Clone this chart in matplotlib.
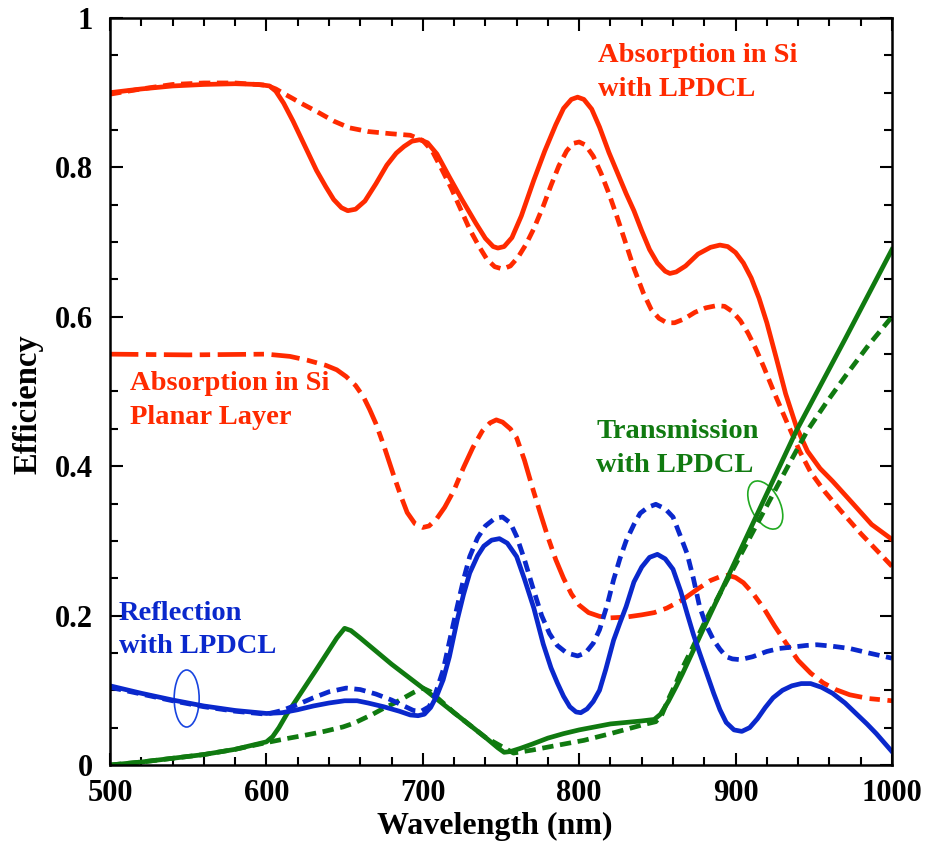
import matplotlib
matplotlib.use("Agg")
import matplotlib.pyplot as plt
from matplotlib.patches import Ellipse
from matplotlib.transforms import ScaledTranslation
from matplotlib.ticker import MultipleLocator, FuncFormatter

plt.rcParams['font.family'] = ['Liberation Serif', 'DejaVu Serif']
plt.rcParams['font.weight'] = 'bold'

# Absorption in Si with LPDCL (solid)
abs_lp_x = [500, 520, 540, 560, 580, 595, 602, 606, 611, 617, 622, 627, 632, 638, 643, 648,
            652, 657, 663, 670, 677, 683, 688, 693, 698, 703, 709, 717, 725, 734, 740, 745,
            748, 752, 757, 763, 771, 778, 785, 790, 795, 799, 803, 808, 813, 819, 825, 830,
            835, 840, 845, 850, 855, 858, 862, 868, 876, 884, 890, 895, 900, 905, 910, 915,
            920, 926, 932, 939, 946, 954, 962, 975, 987, 1000]
abs_lp_y = [0.900, 0.905, 0.909, 0.911, 0.912, 0.911, 0.909, 0.902, 0.886, 0.862, 0.840, 0.818,
            0.796, 0.774, 0.757, 0.746, 0.742, 0.744, 0.755, 0.778, 0.803, 0.819, 0.828, 0.835,
            0.837, 0.833, 0.818, 0.787, 0.757, 0.725, 0.705, 0.694, 0.692, 0.694, 0.706, 0.735,
            0.783, 0.822, 0.857, 0.879, 0.891, 0.894, 0.891, 0.878, 0.854, 0.820, 0.790, 0.765,
            0.742, 0.715, 0.690, 0.672, 0.661, 0.658, 0.660, 0.668, 0.684, 0.693, 0.696, 0.694,
            0.686, 0.672, 0.652, 0.625, 0.592, 0.545, 0.497, 0.452, 0.420, 0.397, 0.380, 0.350,
            0.322, 0.302]

# Absorption in Si, alternative LPDCL (short dashes)
abs_lp2_x = [500, 520, 540, 560, 580, 600, 606, 611, 617, 622, 632, 643, 653, 665, 680, 692,
             700, 706, 712, 718, 724, 730, 736, 741, 746, 751, 756, 761, 766, 771, 777, 782,
             787, 792, 796, 800, 804, 809, 814, 819, 824, 830, 835, 841, 846, 851, 856, 861,
             867, 874, 881, 888, 893, 898, 903, 908, 913, 918, 925, 933, 941, 948, 957, 967,
             980, 990, 1000]
abs_lp2_y = [0.898, 0.905, 0.911, 0.913, 0.913, 0.910, 0.905, 0.899, 0.892, 0.886, 0.875, 0.862,
             0.853, 0.848, 0.845, 0.843, 0.836, 0.822, 0.798, 0.773, 0.745, 0.717, 0.694, 0.677,
             0.667, 0.664, 0.668, 0.680, 0.697, 0.718, 0.748, 0.776, 0.802, 0.822, 0.832, 0.834,
             0.830, 0.815, 0.792, 0.765, 0.735, 0.697, 0.665, 0.632, 0.610, 0.598, 0.592, 0.592,
             0.597, 0.606, 0.612, 0.615, 0.614, 0.607, 0.595, 0.578, 0.557, 0.533, 0.497, 0.458,
             0.420, 0.392, 0.366, 0.341, 0.310, 0.288, 0.266]

# Absorption in Si planar layer (dash-dot)
abs_pl_x = [500, 550, 600, 615, 626, 638, 645, 651, 657, 662, 666, 670, 675, 681, 686, 690,
            695, 700, 704, 709, 714, 720, 726, 732, 738, 743, 747, 751, 756, 760, 765, 770,
            775, 780, 785, 790, 795, 800, 806, 813, 820, 830, 840, 848, 856, 866, 876, 884,
            890, 895, 900, 905, 911, 918, 925, 932, 940, 948, 956, 964, 973, 985, 1000]
abs_pl_y = [0.550, 0.549, 0.550, 0.547, 0.542, 0.535, 0.529, 0.520, 0.508, 0.493, 0.476, 0.457,
            0.428, 0.390, 0.360, 0.338, 0.323, 0.318, 0.320, 0.330, 0.345, 0.368, 0.398, 0.425,
            0.447, 0.458, 0.462, 0.459, 0.450, 0.438, 0.408, 0.372, 0.338, 0.305, 0.275, 0.250,
            0.229, 0.214, 0.204, 0.199, 0.197, 0.198, 0.201, 0.204, 0.210, 0.221, 0.236, 0.247,
            0.252, 0.254, 0.251, 0.244, 0.230, 0.210, 0.186, 0.164, 0.140, 0.123, 0.110, 0.101,
            0.094, 0.089, 0.086]

# Reflection with LPDCL (solid)
ref_lp_x = [500, 520, 540, 560, 580, 600, 610, 620, 630, 640, 650, 658, 665, 675, 685, 692,
            697, 701, 705, 709, 713, 717, 722, 726, 730, 735, 739, 744, 749, 754, 760, 765,
            771, 777, 782, 786, 790, 794, 798, 801, 805, 809, 813, 817, 822, 826, 830, 835,
            840, 845, 850, 855, 860, 865, 869, 873, 877, 882, 886, 890, 894, 899, 904, 909,
            914, 919, 924, 930, 936, 942, 948, 955, 962, 970, 977, 984, 990, 995, 1000]
ref_lp_y = [0.106, 0.096, 0.087, 0.079, 0.073, 0.069, 0.070, 0.074, 0.079, 0.083, 0.086, 0.086,
            0.083, 0.078, 0.072, 0.067, 0.066, 0.068, 0.077, 0.093, 0.114, 0.145, 0.194, 0.228,
            0.257, 0.280, 0.293, 0.301, 0.303, 0.297, 0.279, 0.249, 0.210, 0.162, 0.130, 0.110,
            0.092, 0.078, 0.071, 0.070, 0.075, 0.085, 0.100, 0.128, 0.167, 0.190, 0.212, 0.245,
            0.265, 0.278, 0.282, 0.276, 0.262, 0.232, 0.203, 0.175, 0.150, 0.120, 0.096, 0.074,
            0.057, 0.047, 0.045, 0.050, 0.062, 0.077, 0.090, 0.100, 0.106, 0.109, 0.109, 0.104,
            0.096, 0.083, 0.069, 0.055, 0.042, 0.030, 0.018]

# Reflection, alternative LPDCL (short dashes)
ref_lp2_x = [500, 520, 540, 560, 580, 600, 610, 620, 630, 640, 651, 660, 670, 680, 688, 694,
             699, 704, 708, 713, 717, 722, 726, 730, 735, 740, 746, 751, 756, 760, 765, 770,
             776, 781, 786, 792, 799, 804, 809, 813, 818, 822, 826, 830, 835, 839, 844, 849,
             855, 860, 865, 869, 873, 877, 881, 886, 890, 894, 898, 903, 911, 920, 928, 937,
             945, 952, 962, 973, 985, 1000]
ref_lp2_y = [0.104, 0.095, 0.086, 0.078, 0.072, 0.068, 0.073, 0.081, 0.090, 0.098, 0.103, 0.101,
             0.095, 0.087, 0.079, 0.073, 0.072, 0.078, 0.095, 0.127, 0.165, 0.212, 0.248, 0.279,
             0.304, 0.320, 0.330, 0.332, 0.324, 0.306, 0.275, 0.240, 0.200, 0.176, 0.160, 0.150,
             0.146, 0.150, 0.163, 0.181, 0.215, 0.248, 0.276, 0.300, 0.322, 0.337, 0.345, 0.349,
             0.343, 0.332, 0.305, 0.283, 0.250, 0.212, 0.188, 0.167, 0.155, 0.145, 0.142, 0.141,
             0.145, 0.152, 0.156, 0.158, 0.160, 0.161, 0.159, 0.156, 0.150, 0.143]

# Transmission with LPDCL (solid)
tra_lp_x = [500, 520, 540, 560, 580, 600, 604, 608, 613, 620, 632, 645, 650, 654, 660, 680,
            700, 720, 740, 748, 752, 756, 762, 770, 780, 790, 800, 810, 820, 830, 840, 848,
            852, 857, 862, 866, 870, 880, 894, 915, 939, 970, 1000]
tra_lp_y = [0.000, 0.004, 0.009, 0.014, 0.021, 0.031, 0.038, 0.050, 0.068, 0.090, 0.128, 0.170,
            0.183, 0.180, 0.170, 0.135, 0.103, 0.070, 0.037, 0.023, 0.017, 0.018, 0.022, 0.028,
            0.036, 0.042, 0.047, 0.051, 0.055, 0.057, 0.059, 0.061, 0.068, 0.085, 0.105, 0.122,
            0.140, 0.185, 0.247, 0.341, 0.448, 0.570, 0.690]

# Transmission, alternative LPDCL (short dashes)
tra_lp2_x = [500, 520, 540, 560, 580, 600, 612, 625, 637, 649, 656, 662, 668, 675, 682, 688,
             694, 700, 705, 720, 740, 758, 770, 785, 803, 820, 841, 849, 853, 857, 862, 866,
             872, 880, 894, 908, 922, 934, 946, 958, 970, 985, 1000]
tra_lp2_y = [0.000, 0.004, 0.009, 0.014, 0.021, 0.030, 0.035, 0.040, 0.045, 0.051, 0.056, 0.062,
             0.068, 0.076, 0.083, 0.090, 0.097, 0.103, 0.098, 0.070, 0.037, 0.016, 0.020, 0.026,
             0.033, 0.042, 0.054, 0.058, 0.068, 0.088, 0.110, 0.130, 0.155, 0.190, 0.245, 0.300,
             0.355, 0.402, 0.448, 0.485, 0.520, 0.562, 0.600]

RED = '#FF2A00'
BLUE = '#0A28CC'
GREEN = '#107A10'

fig = plt.figure(figsize=(9.27, 8.56), dpi=100)
ax = fig.add_axes([0.1187, 0.1063, 0.8435, 0.8727])

lw = 3.4
short = (2.4, 1.4)
ax.plot(abs_pl_x, abs_pl_y, color=RED, lw=lw, dashes=(6.0, 1.6, 2.2, 1.6))
ax.plot(abs_lp2_x, abs_lp2_y, color=RED, lw=lw, dashes=short)
ax.plot(abs_lp_x, abs_lp_y, color=RED, lw=lw)
ax.plot(tra_lp2_x, tra_lp2_y, color=GREEN, lw=lw, dashes=short)
ax.plot(tra_lp_x, tra_lp_y, color=GREEN, lw=lw)
ax.plot(ref_lp2_x, ref_lp2_y, color=BLUE, lw=lw, dashes=short)
ax.plot(ref_lp_x, ref_lp_y, color=BLUE, lw=lw)

# ellipse markers (sizes in inches)
ell_b = Ellipse((0, 0), 0.25, 0.57, fill=False, ec='#1844E0', lw=1.2,
                transform=fig.dpi_scale_trans + ScaledTranslation(549, 0.089, ax.transData))
ell_g = Ellipse((0, 0), 0.29, 0.52, angle=27, fill=False, ec='#22AA22', lw=1.2,
                transform=fig.dpi_scale_trans + ScaledTranslation(919, 0.348, ax.transData))
ax.add_patch(ell_b)
ax.add_patch(ell_g)

tkw = dict(fontsize=20.5, fontweight='bold', va='top', ha='left', linespacing=1.45)
ax.text(812, 0.966, 'Absorption in Si\nwith LPDCL', color=RED, **tkw)
ax.text(512.5, 0.527, 'Absorption in Si\nPlanar Layer', color=RED, **tkw)
ax.text(811, 0.463, 'Transmission\nwith LPDCL', color=GREEN, **tkw)
ax.text(505.5, 0.220, 'Reflection\nwith LPDCL', color=BLUE, **tkw)

ax.set_xlim(500, 1000)
ax.set_ylim(0, 1)
ax.xaxis.set_major_locator(MultipleLocator(100))
ax.xaxis.set_minor_locator(MultipleLocator(20))
ax.yaxis.set_major_locator(MultipleLocator(0.2))
ax.yaxis.set_minor_locator(MultipleLocator(0.05))
ax.yaxis.set_major_formatter(FuncFormatter(lambda v, p: '%g' % round(v, 2)))
ax.tick_params(which='both', direction='in', top=True, right=True, width=1.5,
               labelsize=22, pad=12)
ax.tick_params(axis='x', pad=10)
ax.tick_params(which='major', length=9)
ax.tick_params(which='minor', length=5.5)
for s in ax.spines.values():
    s.set_linewidth(1.8)

ax.set_xlabel('Wavelength (nm)', fontsize=23, fontweight='bold')
ax.set_ylabel('Efficiency', fontsize=23.5, fontweight='bold')
ax.xaxis.set_label_coords(0.4917, -0.063)
ax.yaxis.set_label_coords(-0.0855, 0.483)

fig.savefig('out.png', dpi=100)
